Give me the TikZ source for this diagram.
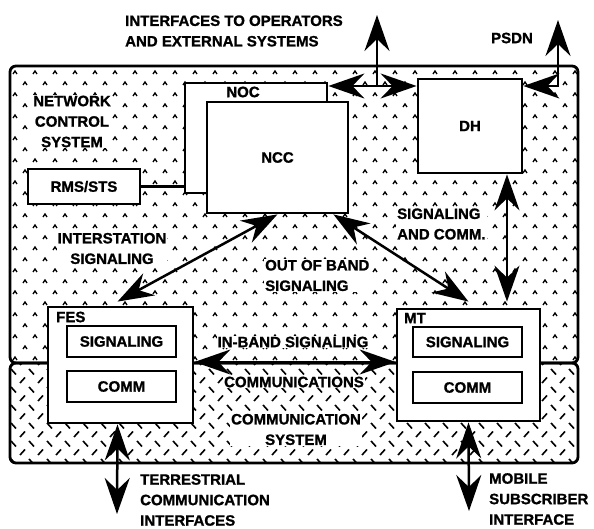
\documentclass[tikz,border=0pt]{standalone}
\usepackage{fontspec}
\setmainfont{Liberation Sans}[BoldFeatures={FakeBold=1.2}]
\usetikzlibrary{arrows.meta,patterns}
% caret pattern of the network control system
\pgfdeclarepatternformonly{carets}{\pgfpoint{-1pt}{-1pt}}{\pgfpoint{21pt}{23pt}}{\pgfpoint{20pt}{22pt}}{%
  \pgfsetlinewidth{1.3pt}%
  \pgfpathmoveto{\pgfpoint{3pt}{4pt}}\pgfpathlineto{\pgfpoint{5pt}{7pt}}\pgfpathlineto{\pgfpoint{7pt}{4pt}}%
  \pgfpathmoveto{\pgfpoint{13pt}{15pt}}\pgfpathlineto{\pgfpoint{15pt}{18pt}}\pgfpathlineto{\pgfpoint{17pt}{15pt}}%
  \pgfusepath{stroke}}
% dash pattern of the communication system
\pgfdeclarepatternformonly{dashmarks}{\pgfpoint{-1pt}{-1pt}}{\pgfpoint{19pt}{19pt}}{\pgfpoint{18pt}{18pt}}{%
  \pgfsetlinewidth{1.6pt}%
  \pgfpathmoveto{\pgfpoint{2pt}{2pt}}\pgfpathlineto{\pgfpoint{7pt}{7.5pt}}%
  \pgfpathmoveto{\pgfpoint{11pt}{16pt}}\pgfpathlineto{\pgfpoint{16pt}{10.5pt}}%
  \pgfusepath{stroke}}
\tikzset{
  region/.style={line width=2.8pt,rounded corners=6pt},
  box/.style={draw,line width=2.8pt,fill=white,align=center,font=\lblfont,inner sep=0pt},
  lbl/.style={font=\lblfont,fill=white,inner sep=1pt,align=center},
  tag/.style={font=\lblfont,inner sep=0pt},
  arr/.style={-{Stealth[length=36pt,width=25pt,inset=12pt]},line width=2.5pt},
  darr/.style={{Stealth[length=36pt,width=25pt,inset=12pt]}-{Stealth[length=36pt,width=25pt,inset=12pt]},line width=2.5pt}}
\newcommand{\lblfont}{\bfseries\fontsize{15}{20.5}\selectfont}
\begin{document}
\begin{tikzpicture}[x=1pt,y=-1pt]
\useasboundingbox (0,0) rectangle (594,529);
% systems
\draw[region,pattern=carets] (10,66) rectangle (578,363);
\draw[region,pattern=dashmarks] (10,363) rectangle (578,463);
% network control system
\node[box,minimum width=142pt,minimum height=110pt] (noc) at (256,138) {};
\node[tag] (noct) at (243,92) {NOC};
\node[box,minimum width=141pt,minimum height=111pt] (ncc) at (277.5,157.5) {NCC};
\node[box,minimum width=112pt,minimum height=35pt] (rms) at (84,186.5) {RMS/STS};
\node[box,minimum width=104pt,minimum height=94pt] (dh) at (470,126) {DH};
\draw[line width=2.8pt] (rms.east) -- (rms.east -| noc.west);
% terminals
\node[box,minimum width=145pt,minimum height=116pt] (fes) at (120.5,365) {};
\node[tag,anchor=west] (fest) at (56,317) {FES};
\node[box,minimum width=109pt,minimum height=31pt] (fsig) at (121.5,341.5) {SIGNALING};
\node[box,minimum width=109pt,minimum height=31pt] (fcom) at (121.5,386.5) {COMM};
\node[box,minimum width=143pt,minimum height=112pt] (mt) at (468.5,365) {};
\node[tag,anchor=west] (mtt) at (404,318) {MT};
\node[box,minimum width=109pt,minimum height=30pt] (msig) at (467.5,342) {SIGNALING};
\node[box,minimum width=109pt,minimum height=31pt] (mcom) at (467.5,387.5) {COMM};
% labels
\node[tag,anchor=west,align=left] (ifx) at (125,31) {INTERFACES TO OPERATORS\\AND EXTERNAL SYSTEMS};
\node[tag] (psdn) at (512,38) {PSDN};
\node[lbl] (ncs) at (72,121.5) {NETWORK\\CONTROL\\SYSTEM};
\node[lbl] (isl) at (112,248.5) {INTERSTATION\\SIGNALING};
\node[lbl,anchor=west,align=left] (oob) at (264,275.5) {OUT OF BAND\\SIGNALING};
\node[lbl,anchor=west,align=left] (sgc) at (396,224) {SIGNALING\\AND COMM.};
\node[lbl] (ibs) at (293,342) {IN-BAND SIGNALING};
\node[lbl] (cms) at (294,382) {COMMUNICATIONS};
\node[lbl] (csy) at (296,429.5) {COMMUNICATION\\SYSTEM};
\node[tag,anchor=west,align=left] (tci) at (140,500) {TERRESTRIAL\\COMMUNICATION\\INTERFACES};
\node[tag,anchor=west,align=left] (msi) at (489,499) {MOBILE\\SUBSCRIBER\\INTERFACE};
% interfaces
\coordinate (ifj) at (377,86);
\coordinate (ift) at (377,15);
\coordinate (pst) at (558,20);
\coordinate (psj) at (558,86);
\draw[arr] (ifj) -- (ift);
\draw[darr] (ifj -| noc.east) -- (ifj -| dh.west);
\draw[darr] (pst) -- (psj) -- (psj -| dh.east);
\coordinate (tcb) at (117,514);
\coordinate (msb) at (469,511);
\draw[darr] ([xshift=-3pt]fes.south) -- (tcb);
\draw[darr] (mt.south) -- (msb);
% signaling paths
\draw[darr] (ncc.south) -- ([xshift=-3pt,yshift=4pt]fes.north);
\draw[darr] ([xshift=-16pt]ncc.south east) -- ([yshift=6pt]mt.north);
\draw[darr] ([xshift=37pt]dh.south) -- ([xshift=38.5pt,yshift=6pt]mt.north);
\draw[darr] ([yshift=3pt]fes.east) -- ([yshift=3pt]fes.east -| mt.west);
\end{tikzpicture}
\end{document}
